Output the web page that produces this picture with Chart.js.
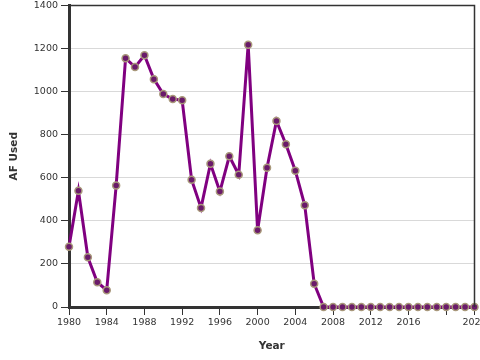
<!DOCTYPE html>
<html>
<head>
<meta charset="utf-8">
<script src="https://cdn.jsdelivr.net/npm/chart.js@4/dist/chart.umd.min.js"></script>
<style>
  html, body { margin: 0; padding: 0; background: #fff; }
  #wrap { width: 480px; height: 360px; position: relative; }
</style>
</head>
<body>
<div id="wrap"><canvas id="c" width="480" height="360"></canvas></div>
<script>
const years = [1980,1981,1982,1983,1984,1985,1986,1987,1988,1989,1990,1991,1992,1993,1994,1995,1996,1997,1998,1999,2000,2001,2002,2003,2004,2005,2006,2007,2008,2009,2010,2011,2012,2013,2014,2015,2016,2017,2018,2019,2020,2021,2022,2023];
const afUsed = [280,540,231,115,78,564,1155,1114,1169,1058,989,966,960,591,460,665,536,700,614,1218,356,647,864,756,633,472,108,0,0,0,0,0,0,0,0,0,0,0,0,0,0,0,0,0];
const xTickValues = [1980,1984,1988,1992,1996,2000,2004,2008,2012,2016,2020,2023];
const xHiddenLabels = [2020];
const yTickValues = [0,200,400,600,800,1000,1200,1400];
const xTitle = 'Year';
const yTitle = 'AF Used';

const frame = {
  id: 'frame',
  afterDraw(chart) {
    const {ctx, chartArea: a} = chart;
    ctx.save();
    ctx.strokeStyle = '#333';
    ctx.lineWidth = 1.5;
    ctx.beginPath();
    ctx.moveTo(a.left, a.top);
    ctx.lineTo(a.right, a.top);
    ctx.lineTo(a.right, a.bottom);
    ctx.stroke();
    ctx.restore();
  }
};

const tickFont = { family: 'DejaVu Sans', size: 9.5 };
const titleFont = { family: 'DejaVu Sans', size: 10.5, weight: 'bold' };

new Chart(document.getElementById('c'), {
  type: 'line',
  data: {
    datasets: [{
      data: years.map((y, i) => ({ x: y, y: afUsed[i] })),
      borderColor: '#800080',
      borderWidth: 3,
      pointRadius: 3.5,
      pointBorderWidth: 1.5,
      pointBackgroundColor: '#6a1a6a',
      pointBorderColor: '#a8987a',
      tension: 0,
      clip: false
    }]
  },
  options: {
    responsive: false,
    animation: false,
    devicePixelRatio: 1,
    layout: { padding: { top: 4, right: 5, left: 0, bottom: 0 } },
    plugins: { legend: { display: false }, tooltip: { enabled: false } },
    scales: {
      x: {
        type: 'linear',
        min: 1980,
        max: 2023,
        afterBuildTicks(scale) { scale.ticks = xTickValues.map(v => ({ value: v })); },
        afterFit(scale) { scale.height = 53; scale.paddingLeft = 0; scale.paddingRight = 0; },
        ticks: {
          autoSkip: false,
          maxRotation: 0,
          padding: 2,
          color: '#333',
          font: tickFont,
          callback: v => xHiddenLabels.includes(v) ? '' : String(v)
        },
        grid: { drawOnChartArea: false, drawTicks: true, tickLength: 8, tickColor: '#333', tickWidth: 1 },
        border: { color: '#333', width: 3 },
        title: { display: true, text: xTitle, color: '#333', font: titleFont, padding: { top: 4, bottom: 7 } }
      },
      y: {
        min: 0,
        max: 1400,
        afterBuildTicks(scale) { scale.ticks = yTickValues.map(v => ({ value: v })); },
        afterFit(scale) { scale.width = 69; scale.paddingTop = 0; scale.paddingBottom = 0; },
        ticks: { padding: 3, color: '#333', font: tickFont, callback: v => String(v) },
        grid: { color: '#d9d9d9', lineWidth: 1, drawTicks: true, tickLength: 8, tickColor: '#333', tickWidth: 1 },
        border: { color: '#333', width: 3 },
        title: { display: true, text: yTitle, color: '#333', font: titleFont, padding: { top: 8, bottom: 4 } }
      }
    }
  },
  plugins: [frame]
});
</script>
</body>
</html>
